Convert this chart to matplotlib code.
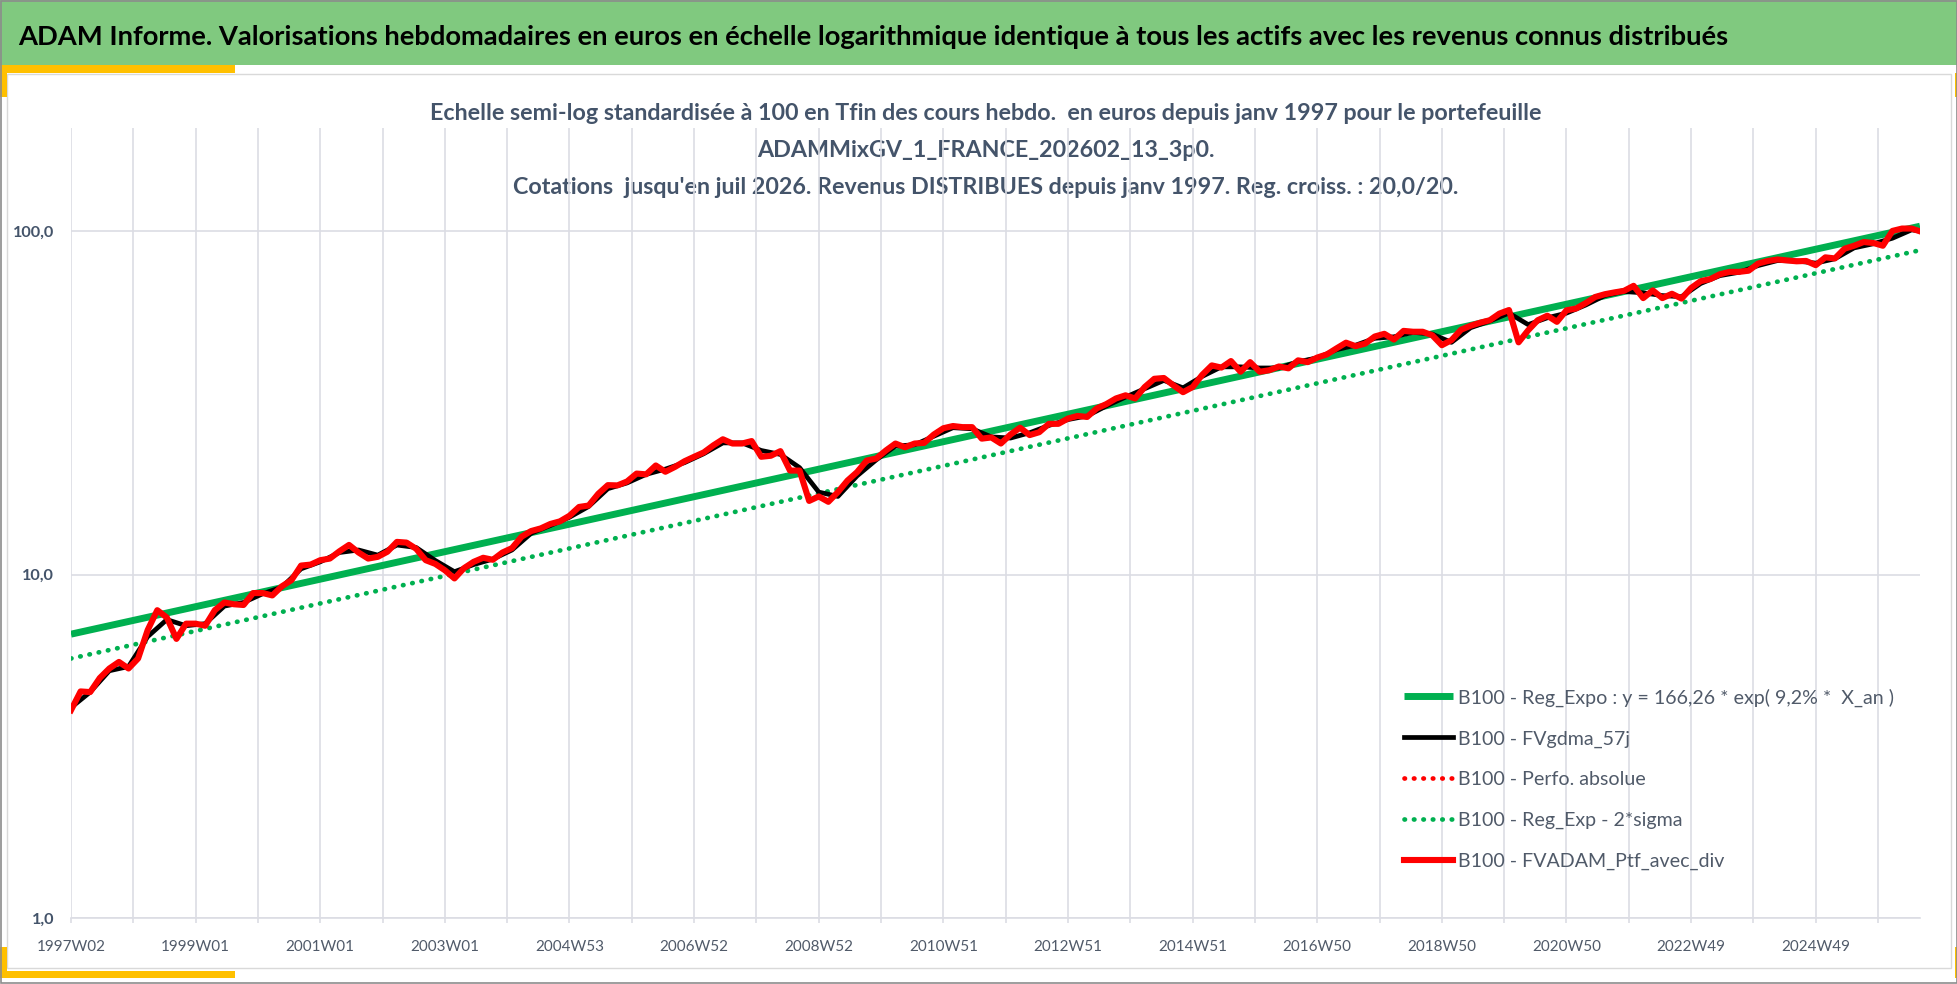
import numpy as np
import matplotlib.pyplot as plt
from matplotlib.patches import Rectangle
from matplotlib.ticker import NullLocator

W, H = 1958, 984

title = ("ADAM Informe. Valorisations hebdomadaires en euros en échelle logarithmique "
         "identique à tous les actifs avec les revenus connus distribués")
subtitle = [
    "Echelle semi-log standardisée à 100 en Tfin des cours hebdo.  en euros depuis janv 1997 pour le portefeuille",
    "ADAMMixGV_1_FRANCE_202602_13_3p0.",
    "Cotations  jusqu'en juil 2026. Revenus DISTRIBUES depuis janv 1997. Reg. croiss. : 20,0/20.",
]

# weekly categories, 1997W02 -> last quote
n_weeks = 1544
grid_step = 52
week_labels = ['1997W02', '1999W01', '2001W01', '2003W01', '2004W53', '2006W52', '2008W52',
               '2010W51', '2012W51', '2014W51', '2016W50', '2018W50', '2020W50', '2022W49', '2024W49']

# B100 - FVADAM_Ptf_avec_div, read every 8 weeks (+ last week)
ptf_step = 8
ptf_values = [
    4.03, 4.57, 4.55, 5.0, 5.33, 5.57, 5.33, 5.7, 6.9, 7.88,
    7.5, 6.5, 7.2, 7.2, 7.1, 7.88, 8.3, 8.2, 8.16, 8.84,
    8.84, 8.7, 9.25, 9.64, 10.63, 10.7, 11.02, 11.14, 11.7, 12.21,
    11.6, 11.14, 11.27, 11.66, 12.46, 12.4, 11.9, 11.02, 10.75, 10.3,
    9.75, 10.45, 10.9, 11.2, 11.05, 11.6, 11.95, 12.9, 13.4, 13.64,
    14.05, 14.3, 14.85, 15.75, 15.9, 17.2, 18.23, 18.2, 18.68, 19.7,
    19.6, 20.8, 19.94, 20.6, 21.4, 22.05, 22.7, 23.8, 24.8, 24.1,
    24.1, 24.5, 22.05, 22.2, 22.9, 20.1, 20.1, 16.4, 16.9, 16.3,
    17.4, 18.8, 19.9, 21.5, 21.8, 23.0, 24.1, 23.5, 24.1, 24.2,
    25.6, 26.7, 27.1, 26.9, 26.9, 24.9, 25.1, 24.1, 25.6, 26.8,
    25.5, 26.0, 27.5, 27.5, 28.5, 29.0, 28.8, 30.5, 31.4, 32.6,
    33.3, 32.6, 35.2, 37.2, 37.4, 35.6, 34.0, 35.2, 38.2, 40.7,
    40.1, 41.9, 39.0, 41.6, 39.0, 39.4, 40.4, 39.9, 42.1, 41.6,
    42.9, 43.8, 45.6, 47.4, 46.3, 47.1, 49.4, 50.3, 48.4, 51.3,
    51.0, 51.0, 49.8, 46.6, 48.2, 51.7, 53.1, 54.2, 55.1, 57.6,
    59.0, 47.5, 51.5, 55.1, 56.8, 54.5, 58.9, 59.6, 61.8, 64.4,
    65.6, 66.4, 67.1, 69.4, 63.9, 67.3, 63.9, 65.8, 63.7, 68.4,
    71.6, 72.6, 75.0, 76.2, 76.2, 76.8, 80.6, 82.0, 82.8, 82.3,
    81.8, 82.0, 79.7, 84.0, 83.4, 89.0, 90.8, 93.1, 92.5, 90.8,
    100.3, 101.9, 101.9, 100.0,
]

# B100 - FVgdma_57j, read every 16 weeks (+ last week)
gdma_step = 16
gdma_values = [
    4.1, 4.55, 5.25, 5.4, 6.6, 7.4, 7.1, 7.2, 8.1, 8.3,
    8.8, 9.2, 10.4, 10.9, 11.6, 11.8, 11.4, 12.2, 12.0, 11.0,
    10.2, 10.7, 11.1, 11.8, 13.2, 13.9, 14.7, 15.8, 17.8, 18.5,
    19.6, 20.3, 21.2, 22.5, 24.2, 24.2, 23.0, 22.4, 20.5, 17.4,
    16.9, 19.4, 21.6, 23.7, 23.9, 25.3, 26.8, 26.6, 25.2, 25.0,
    25.9, 27.2, 28.3, 29.0, 31.0, 32.9, 34.8, 36.8, 35.0, 37.8,
    40.3, 40.3, 40.0, 40.0, 41.7, 42.8, 45.2, 46.6, 48.8, 49.3,
    50.8, 50.2, 47.5, 52.4, 54.8, 57.8, 53.5, 56.0, 57.8, 61.0,
    65.0, 66.8, 66.2, 65.0, 64.5, 70.5, 74.3, 76.0, 79.5, 82.2,
    82.0, 80.8, 83.2, 89.5, 92.0, 95.5, 101.0, 100.2,
]

# exponential regression and regression - 2 sigma (first / last week)
reg_expo = [6.71, 103.5]
reg_minus_2sigma = [5.70, 88.1]

legend_labels = [
    "B100 - Reg_Expo : y = 166,26 * exp( 9,2% *  X_an )",
    "B100 - FVgdma_57j",
    "B100 - Perfo. absolue",
    "B100 - Reg_Exp - 2*sigma",
    "B100 - FVADAM_Ptf_avec_div",
]

GREEN, RED, BLACK = '#00B050', '#FF0000', '#000000'
GRID = '#DCDDE4'
SLATE = '#44546A'
LABEL = '#505A69'

plt.rcParams['font.family'] = 'Lato'
fig = plt.figure(figsize=(W / 100, H / 100), dpi=100)
renderer = fig.canvas.get_renderer()


def fit_size(text, width_px, **kw):
    # font size (pt) giving the wanted pixel width, plus the text height at that size
    t = fig.text(0, 0, text, fontsize=20, **kw)
    bb = t.get_window_extent(renderer)
    t.remove()
    size = 20 * width_px / bb.width
    return size, bb.height * width_px / bb.width


# frame and header band, in pixel coordinates
bg = fig.add_axes([0, 0, 1, 1], zorder=0)
bg.set_xlim(0, W)
bg.set_ylim(H, 0)
bg.axis('off')
bg.add_patch(Rectangle((0, 0), W, 65, color='#80C97F', lw=0))
bg.add_patch(Rectangle((7, 74), W - 14, 894, fill=False, ec='#D9D9D9', lw=1))
for x0, y0, w, h in [(0, 65, 235, 8), (0, 65, 7, 32), (0, 971, 235, 7), (0, 947, 7, 31),
                     (1955, 73, 3, 24), (1955, 947, 3, 31)]:
    bg.add_patch(Rectangle((x0, y0), w, h, color='#FFC000', lw=0))
bg.add_patch(Rectangle((0.5, 0.5), W - 1, H - 1.5, fill=False, ec='#8C8C8C', lw=1.2))

size_t, _ = fit_size(title, 1710, fontweight='bold')
bg.text(18, 45, title, fontsize=size_t, fontweight='bold', color='black', va='baseline')

size_s, _ = fit_size(subtitle[0], 1117, fontweight='bold')
for line, yb in zip(subtitle, [120, 157, 194]):
    bg.text(986, yb, line, fontsize=size_s, fontweight='bold', color=SLATE,
            ha='center', va='baseline', zorder=5)

# plot area
ax = fig.add_axes([71 / W, 1 - 918 / H, (1920 - 71) / W, (918 - 128) / H], zorder=1)
ax.patch.set_alpha(0)

x_ptf = np.append(np.arange(0, n_weeks - 1, ptf_step), n_weeks - 1)
x_gdma = np.append(np.arange(0, n_weeks - 1, gdma_step), n_weeks - 1)
x_reg = [0, n_weeks - 1]

dots = (0, (0.1, 1.9))
ax.plot(x_reg, reg_expo, color=GREEN, lw=5.0, solid_capstyle='butt', label=legend_labels[0], zorder=2)
ax.plot(x_gdma, gdma_values, color=BLACK, lw=3.4, label=legend_labels[1], zorder=3)
ax.plot(x_ptf, ptf_values, color=RED, lw=3.4, ls=dots, dash_capstyle='round',
        label=legend_labels[2], zorder=3)
ax.plot(x_reg, reg_minus_2sigma, color=GREEN, lw=3.4, ls=dots, dash_capstyle='round',
        label=legend_labels[3], zorder=2)
ax.plot(x_ptf, ptf_values, color=RED, lw=4.4, solid_joinstyle='round', label=legend_labels[4], zorder=4)

ax.set_yscale('log')
ax.set_ylim(1, 200)
ax.set_xlim(0, n_weeks - 1)
ax.set_yticks([1, 10, 100])
ax.set_yticklabels(['1,0', '10,0', '100,0'])
ax.yaxis.set_minor_locator(NullLocator())

ticks = np.arange(0, n_weeks - 1, grid_step)
ax.set_xticks(ticks)
ax.set_xticklabels([week_labels[i // 2] if i % 2 == 0 else '' for i in range(len(ticks))])

for side in ['top', 'right', 'left']:
    ax.spines[side].set_visible(False)
ax.spines['bottom'].set_color(GRID)
ax.spines['bottom'].set_linewidth(1.2)
ax.grid(True, color=GRID, lw=1.2)
ax.set_axisbelow(True)

size_x, h_x = fit_size('1997W02', 69)
size_y, _ = fit_size('100,0', 42, fontweight='bold')
pad_x = (947 - 918 - 5 - h_x / 2) * 0.72
ax.tick_params(axis='x', length=3.6, width=1.2, color=GRID, labelcolor=LABEL,
               labelsize=size_x, pad=pad_x)
ax.tick_params(axis='y', length=0, pad=12.2, labelcolor=SLATE, labelsize=size_y)
for lbl in ax.get_yticklabels():
    lbl.set_fontweight('bold')

# legend
size_l, h_l = fit_size(legend_labels[0], 437)
f_px = size_l * 100 / 72
leg = ax.legend(loc='upper left', bbox_to_anchor=(1404, 698 - h_l / 2), bbox_transform=bg.transData,
                frameon=False, fontsize=size_l, borderpad=0, borderaxespad=0,
                handlelength=49 / f_px, handletextpad=5 / f_px,
                labelspacing=(43.3 - h_l) / f_px)
for t in leg.get_texts():
    t.set_color(LABEL)

fig.savefig('out.png', dpi=100, facecolor='white')
